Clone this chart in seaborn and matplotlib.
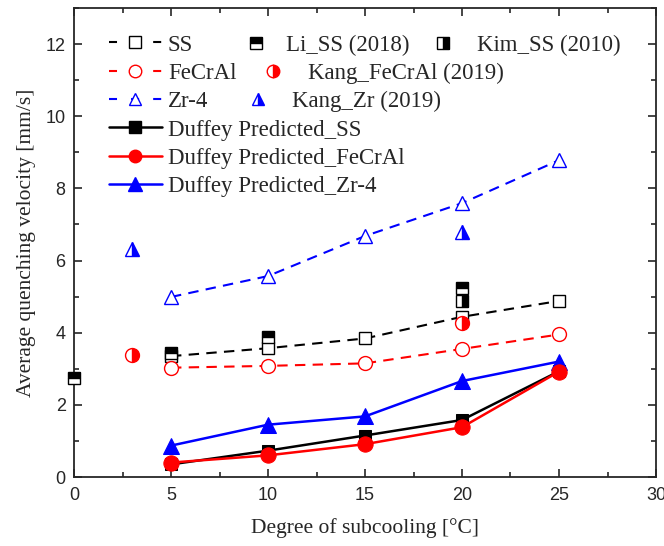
import numpy as np
import pandas as pd
import matplotlib
matplotlib.use("Agg")
import matplotlib.pyplot as plt
from matplotlib.lines import Line2D
from matplotlib.legend import Legend
from matplotlib.ticker import MultipleLocator
import seaborn as sns

# ---- data ----
x_exp = [5, 10, 15, 20, 25]
ss = [3.35, 3.57, 3.84, 4.44, 4.88]
fecral = [3.03, 3.08, 3.15, 3.55, 3.95]
zr4 = [4.99, 5.57, 6.68, 7.59, 8.78]

li_x = [0, 5, 10, 20]
li_ss = [2.75, 3.45, 3.88, 5.23]
kim_x = [20]
kim_ss = [4.88]
kang_fecral_x = [3, 20]
kang_fecral = [3.38, 4.28]
kang_zr_x = [3, 20]
kang_zr = [6.32, 6.80]

duf_ss = [0.35, 0.73, 1.15, 1.58, 2.93]
duf_fecral = [0.40, 0.60, 0.91, 1.38, 2.92]
duf_zr4 = [0.87, 1.45, 1.68, 2.66, 3.20]

sns.set_style("ticks")
plt.rcParams['font.family'] = ['Liberation Serif', 'DejaVu Serif']
plt.rcParams['mathtext.fontset'] = 'stix'

W, H = 664, 546
fig = plt.figure(figsize=(W/100, H/100), dpi=100)
ax = fig.add_axes([74/W, 1-477/H, (656-74)/W, (477-8)/H])

dash = (5, 3.5)
def dashed(y, c, m, ms):
    sns.lineplot(x=x_exp, y=y, ax=ax, color=c, lw=1.5, dashes=False, linestyle=(0, dash),
                 marker=m, markersize=ms, markerfacecolor='white', markeredgecolor=c,
                 markeredgewidth=1.0, zorder=3)

dashed(ss, 'black', 's', 9)
dashed(fecral, 'red', 'o', 10)
dashed(zr4, 'blue', '^', 10)

def solid(y, c, m, ms):
    sns.lineplot(x=x_exp, y=y, ax=ax, color=c, lw=1.8, marker=m, markersize=ms,
                 markerfacecolor=c, markeredgecolor=c, zorder=4)

solid(duf_ss, 'black', 's', 9)
solid(duf_zr4, 'blue', '^', 11)
solid(duf_fecral, 'red', 'o', 11)

def half(xv, yv, c, m, fs, ms):
    sns.lineplot(x=xv, y=yv, ax=ax, color=c, linestyle='none', marker=m, markersize=ms,
                 fillstyle=fs, markerfacecoloralt='white', markerfacecolor=c,
                 markeredgecolor=c, markeredgewidth=1.0, zorder=5, clip_on=False)

half(li_x, li_ss, 'black', 's', 'top', 9)
half(kim_x, kim_ss, 'black', 's', 'right', 9)
half(kang_fecral_x, kang_fecral, 'red', 'o', 'right', 10)
half(kang_zr_x, kang_zr, 'blue', '^', 'right', 10)

ax.set_xlim(0, 30)
ax.set_ylim(0, 13)
ax.xaxis.set_major_locator(MultipleLocator(5))
ax.xaxis.set_minor_locator(MultipleLocator(2.5))
ax.yaxis.set_major_locator(MultipleLocator(2))
ax.yaxis.set_minor_locator(MultipleLocator(1))
ax.tick_params(which='both', direction='in', top=True, right=True, width=1.2)
ax.tick_params(which='major', length=6)
ax.tick_params(which='minor', length=3.5)
for s in ax.spines.values():
    s.set_linewidth(1.3)
for lab in ax.get_xticklabels() + ax.get_yticklabels():
    lab.set_fontfamily('Liberation Sans')
    lab.set_fontsize(13)
ax.tick_params(axis='x', pad=7)
ax.tick_params(axis='y', pad=6)
ax.set_xlabel('Degree of subcooling [°C]', fontsize=15.5, labelpad=10)
ax.set_ylabel('Average quenching velocity [mm/s]', fontsize=15.5, labelpad=7)
if ax.get_legend() is not None:
    ax.get_legend().remove()

# ---- legend (Origin-style, one entry per block) ----
FS = 16.5
fs_px = FS * 100 / 72

def h(c, m, ls, fill, ms, fs='full'):
    return Line2D([], [], color=c, marker=m, linestyle=ls, lw=1.5 if ls != '-' else 1.8,
                  markersize=ms, markerfacecolor=fill, markeredgecolor=c,
                  fillstyle=fs, markerfacecoloralt='white')

def entry(handle, label, x_left, y, hl_px, text_x):
    hl = hl_px / fs_px
    pad = (text_x - x_left - hl_px) / fs_px
    lg = Legend(ax, [handle], [label], loc='center left', frameon=False, fontsize=FS,
                handlelength=hl, handletextpad=pad, borderaxespad=0, borderpad=0,
                bbox_to_anchor=(x_left / W, 1 - (y + 2) / H), bbox_transform=fig.transFigure)
    ax.add_artist(lg)

dls = (0, (3.85, 6.75))
rows = [43, 71.5, 99.5, 128, 156.5, 184.5]
col1 = [(h('black', 's', dls, 'white', 8), 'SS'),
        (h('red', 'o', dls, 'white', 9), 'FeCrAl'),
        (h('blue', '^', dls, 'white', 9), 'Zr-4'),
        (h('black', 's', '-', 'black', 8), 'Duffey Predicted_SS'),
        (h('red', 'o', '-', 'red', 9), 'Duffey Predicted_FeCrAl'),
        (h('blue', '^', '-', 'blue', 10), 'Duffey Predicted_Zr-4')]
for (hd, lb), y in zip(col1, rows):
    entry(hd, lb, 109, y, 53, 168)

hl2 = 16
others = [(h('black', 's', 'none', 'black', 8, 'top'), 'Li_SS (2018)', 255.7, 43, 286.5),
          (h('red', 'o', 'none', 'red', 9, 'right'), 'Kang_FeCrAl (2019)', 273, 71.5, 308),
          (h('blue', '^', 'none', 'blue', 9, 'right'), 'Kang_Zr (2019)', 258, 99.5, 292),
          (h('black', 's', 'none', 'black', 8, 'right'), 'Kim_SS (2010)', 443, 43, 477)]
for hd, lb, mx, y, tx in others:
    entry(hd, lb, mx - hl2 / 2, y, hl2, tx)

fig.savefig('out.png', dpi=100)
